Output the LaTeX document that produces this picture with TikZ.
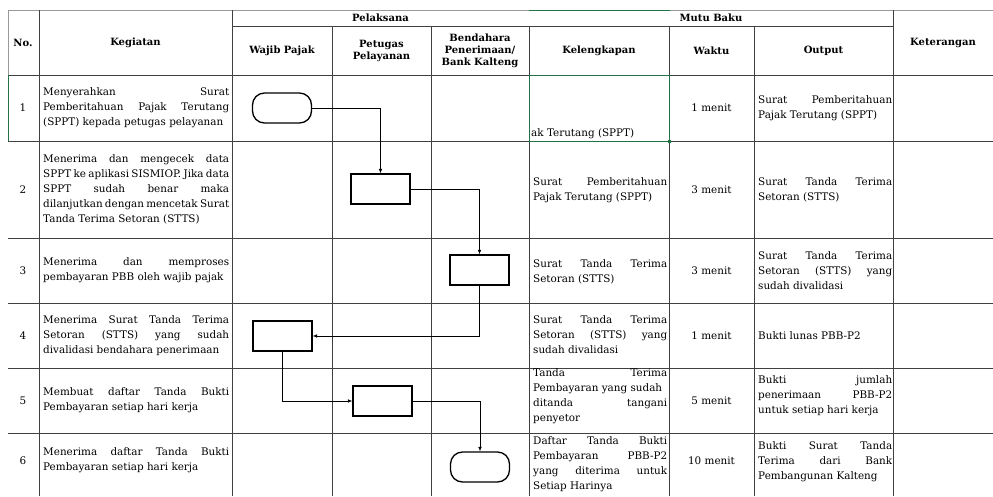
\documentclass[tikz,border=0pt]{standalone}
\usepackage{fontspec}
\setmainfont{DejaVu Serif}
\usetikzlibrary{arrows.meta}
\tikzset{%
  cellline/.style={draw=black!75,line width=0.7pt},
  selline/.style={draw=xlgreen,line width=1pt},
  proc/.style={draw,line width=1.3pt,minimum width=59pt,minimum height=30pt,inner sep=0pt},
  term/.style={proc,rounded corners=12pt},
  flow/.style={-{Latex[length=4.5pt,width=3.6pt]},line width=0.6pt},
  txt/.style={anchor=west,align=left,inner sep=0pt},
  head/.style={font=\bfseries,align=center,inner sep=0pt}
}
\definecolor{xlgreen}{rgb}{0.13,0.45,0.27}
\NewDocumentCommand\jl{O{186pt}m}{\makebox[#1][s]{#2}}
\NewDocumentCommand\jo{m}{\makebox[134pt][s]{#1}}
\begin{document}
\begin{tikzpicture}[x=1pt,y=-1pt,font=\fontsize{10.4}{15}\selectfont]
  \useasboundingbox (0,0) rectangle (993,496);
  %% Table lines
  \draw[draw=black!40,line width=0.7pt] (8,10) -- (993,10);
  \draw[draw=black!40,line width=0.7pt] (8,10) -- (8,75);
  \draw[cellline] (232,26) -- (893,26);
  \foreach \y in {75,141,238,303,368,433}
    \draw[cellline] (8,\y) -- (993,\y);
  \foreach \x in {39,232,893}
    \draw[cellline] (\x,10) -- (\x,496);
  \foreach \x in {332,431,529,669,754}
    \draw[cellline] (\x,26) -- (\x,496);
  %% Selection
  \draw[selline] (529,10) -- (670,10);
  \draw[selline] (8,75) -- (8,141);
  \draw[selline] (529,75) rectangle (669,141);
  \fill[xlgreen] (667.5,139.5) rectangle (671,143);
  %% Header
  \node[head] (hno) at (23,43) {No.};
  \node[head] (hkeg) at (135.5,43) {Kegiatan};
  \node[head] (hpel) at (380.5,18) {Pelaksana};
  \node[head] (hwp) at (282,51) {Wajib Pajak};
  \node[head] (hpp) at (381.5,51) {Petugas\\Pelayanan};
  \node[head] (hbd) at (480,51) {Bendahara\\Penerimaan/\\Bank Kalteng};
  \node[head] (hmb) at (711,18) {Mutu Baku};
  \node[head] (hkel) at (599,51) {Kelengkapan};
  \node[head] (hwkt) at (711.5,51) {Waktu};
  \node[head] (hout) at (823.5,51) {Output};
  \node[head] (hket) at (943,43) {Keterangan};
  %% Numbers
  \foreach \n/\y in {1/108,2/189.5,3/270.5,4/335.5,5/400.5,6/461}
    \node[inner sep=0pt] (n\n) at (23,\y) {\n};
  %% Kegiatan
  \node[txt] (k1) at (43,108) {\jl{Menyerahkan Surat}\\\jl{Pemberitahuan Pajak Terutang}\\(SPPT) kepada petugas pelayanan};
  \node[txt] (k2) at (43,189.5) {\jl{Menerima dan mengecek data}\\\jl{SPPT ke aplikasi SISMIOP. Jika data}\\\jl{SPPT sudah benar maka}\\\jl{dilanjutkan dengan mencetak Surat}\\Tanda Terima Setoran (STTS)};
  \node[txt] (k3) at (43,270.5) {\jl{Menerima dan memproses}\\pembayaran PBB oleh wajib pajak};
  \node[txt] (k4) at (43,335.5) {\jl{Menerima Surat Tanda Terima}\\\jl{Setoran (STTS) yang sudah}\\divalidasi bendahara penerimaan};
  \node[txt] (k5) at (43,400.5) {\jl{Membuat daftar Tanda Bukti}\\Pembayaran setiap hari kerja};
  \node[txt] (k6) at (43,460) {\jl{Menerima daftar Tanda Bukti}\\Pembayaran setiap hari kerja};
  %% Kelengkapan
  \node[txt] (l1) at (531,134) {ak Terutang (SPPT)};
  \node[txt] (l2) at (533,190) {\jo{Surat Pemberitahuan}\\Pajak Terutang (SPPT)};
  \node[txt] (l3) at (533,272) {\jo{Surat Tanda Terima}\\Setoran (STTS)};
  \node[txt] (l4) at (533,335) {\jo{Surat Tanda Terima}\\\jo{Setoran (STTS) yang}\\sudah divalidasi};
  \node[txt] (l5) at (533,396) {\jo{Tanda Terima}\\Pembayaran yang sudah\\\jo{ditanda tangani}\\penyetor};
  \node[txt] (l6) at (533,464) {\jo{Daftar Tanda Bukti}\\\jo{Pembayaran PBB-P2}\\\jo{yang diterima untuk}\\Setiap Harinya};
  %% Waktu
  \foreach \w/\y [count=\i] in {1 menit/108,3 menit/190,3 menit/271,1 menit/335.5,5 menit/400.5,10 menit/461}
    \node[inner sep=0pt] (w\i) at (711.5,\y) {\w};
  %% Output
  \node[txt] (o1) at (758,108) {\jo{Surat Pemberitahuan}\\Pajak Terutang (SPPT)};
  \node[txt] (o2) at (758,190) {\jo{Surat Tanda Terima}\\Setoran (STTS)};
  \node[txt] (o3) at (758,271) {\jo{Surat Tanda Terima}\\\jo{Setoran (STTS) yang}\\sudah divalidasi};
  \node[txt] (o4) at (758,335.5) {Bukti lunas PBB-P2};
  \node[txt] (o5) at (758,396) {\jo{Bukti jumlah}\\\jo{penerimaan PBB-P2}\\untuk setiap hari kerja};
  \node[txt] (o6) at (758,461.5) {\jo{Bukti Surat Tanda}\\\jo{Terima dari Bank}\\Pembangunan Kalteng};
  %% Flow
  \node[term] (t1) at (282,108) {};
  \node[proc] (p2) at (380.5,189) {};
  \node[proc] (p3) at (479.5,270) {};
  \node[proc] (p4) at (282.5,336) {};
  \node[proc] (p5) at (382.5,401) {};
  \node[term] (t6) at (480,467) {};
  \draw[flow] (t1.east) -| (p2.north);
  \draw[flow] (p2.east) -| (p3.north);
  \draw[flow] (p3.south) |- (p4.east);
  \draw[flow] (p4.south) |- (p5.west);
  \draw[flow] (p5.east) -| (t6.north);
\end{tikzpicture}
\end{document}
